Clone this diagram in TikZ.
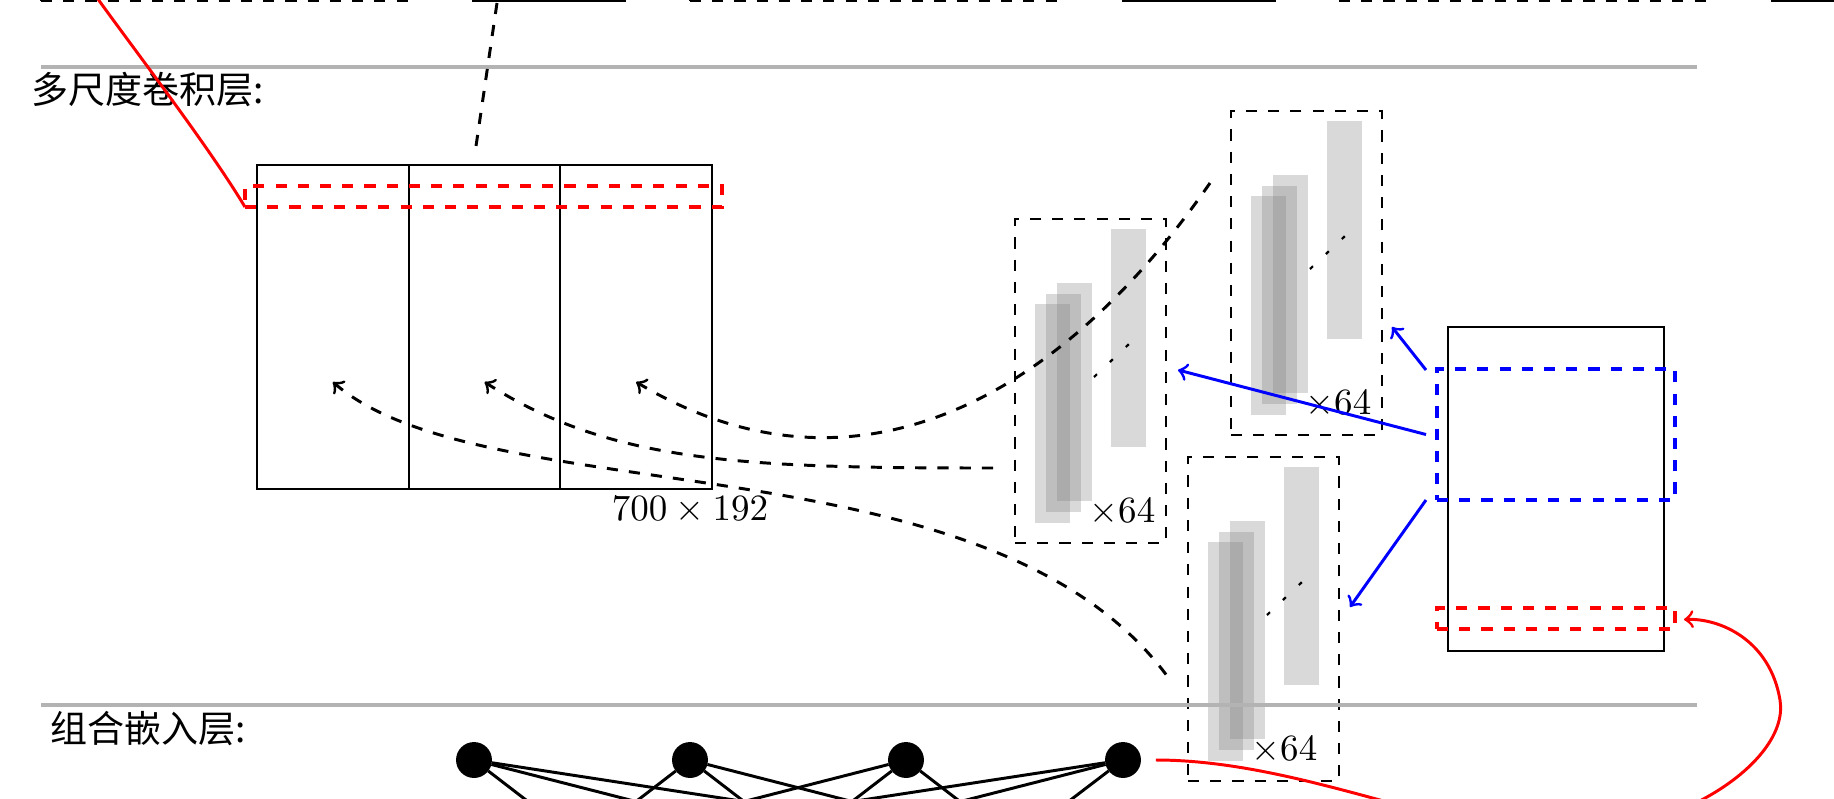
\documentclass[tikz,border=0pt]{standalone}
\usepackage{fontspec}
\newfontfamily\cjkfont{Noto Sans CJK SC}
\usetikzlibrary{calc}
\definecolor{sepgray}{RGB}{179,179,179}
\tikzset{
  sz/.style 2 args={minimum width={#1*0.27pt}, minimum height={#2*0.27pt}},
  thinbox/.style={draw=black, line width=0.45pt, inner sep=0pt, outer sep=0pt},
  dbox/.style={thinbox, dashed},
  grayrect/.style={fill=gray, fill opacity=0.3},
  dotsline/.style={line width=0.6pt, dash pattern=on 1.1pt off 4.8pt},
  sepline/.style={draw=sepgray, line width=1pt},
  reddash/.style={draw=red, line width=1.1pt, dashed, inner sep=0pt, outer sep=0pt},
  bluedash/.style={draw=blue, line width=1.1pt, dashed, inner sep=0pt, outer sep=0pt},
  bluearrow/.style={draw=blue, thick, ->},
  curvearrow/.style={draw=black, thick, dashed, ->},
  redline/.style={draw=red, thick},
  neuron/.style={circle, fill=black, inner sep=0pt, outer sep=0pt, minimum size=9.7pt},
  nedge/.style={draw=black, thick},
  topdbox/.style={draw=black, thick, dashed, inner sep=0pt, outer sep=0pt},
  topsbox/.style={draw=black, thick, inner sep=0pt, outer sep=0pt},
  cjklabel/.style={anchor=west, inner sep=0pt, font=\cjkfont},
  multlabel/.style={anchor=base east, inner sep=0pt},
}
\newcommand{\convstack}[4]{%
  \begin{scope}[shift={(#2,#3)}]
    \fill[grayrect] (20,85) rectangle (55,304);
    \fill[grayrect] (31,75) rectangle (66,293);
    \fill[grayrect] (42,64) rectangle (77,282);
    \fill[grayrect] (96,10) rectangle (131,228);
    \draw[dotsline] (79,158) -- (114,125);
    \node[multlabel] (#1m) at (#4,303) {$\times64$};
    \node[dbox, sz={151}{324}, anchor=north west] (#1) at (0,0) {};
  \end{scope}}
\begin{document}
\begin{tikzpicture}[x=0.27pt, y=-0.27pt]
\useasboundingbox (0,0) rectangle (1834,798);
\clip (0,0) rectangle (1834,798);

% top row of boxes (cut by the top edge)
\node[topdbox, sz={367}{61}, anchor=north west] (t1) at (41,-60) {};
\node[topsbox, sz={152}{61}, anchor=north west] (t2) at (473,-60) {};
\node[topdbox, sz={367}{61}, anchor=north west] (t3) at (690,-60) {};
\node[topsbox, sz={152}{61}, anchor=north west] (t4) at (1123,-60) {};
\node[topdbox, sz={371}{61}, anchor=north west] (t5) at (1339,-60) {};
\node[topsbox, sz={150}{61}, anchor=north west] (t6) at (1772,-60) {};

% separators and section labels
\draw[sepline] (41,67) -- (1697,67);
\draw[sepline] (41,705) -- (1697,705);
\node[cjklabel] (lab1) at (31,89) {多尺度卷积层:};
\node[cjklabel] (lab2) at (50,729) {组合嵌入层:};

% convolution stacks
\convstack{boxA}{1015}{219}{141}
\convstack{boxB}{1231}{111}{141}
\convstack{boxC}{1188}{457}{130}
\draw[sepline] (1100,705) -- (1697,705);

% big 3-column box
\node[thinbox, sz={151.7}{324}, anchor=north west] (col1) at (257,165) {};
\node[thinbox, sz={151.7}{324}, anchor=north west] (col2) at (408.7,165) {};
\node[thinbox, sz={151.7}{324}, anchor=north west] (col3) at (560.3,165) {};
\node[inner sep=0pt] (dim) at (690,510) {$700\times192$};
\node[reddash, sz={477}{21}, anchor=north west] (redL) at (245,186) {};

% right input box
\node[thinbox, sz={216}{324}, anchor=north west] (rbox) at (1448,327) {};
\node[bluedash, sz={238}{131}, anchor=north west] (blueR) at (1437,369) {};
\node[reddash, sz={238}{21}, anchor=north west] (redR) at (1437,608) {};

% embedding layer neurons
\node[neuron] (n1) at (474,760) {};
\node[neuron] (n2) at (690,760) {};
\node[neuron] (n3) at (906,760) {};
\node[neuron] (n4) at (1123,760) {};
\coordinate (l1) at (582,843);
\coordinate (l2) at (798,843);
\coordinate (l3) at (1014,843);
\foreach \a in {n1,n2,n3,n4}{
  \foreach \b in {l1,l2,l3}{
    \draw[nedge] (\a) -- (\b);
  }
}

% connectors
\draw[black, thick, dashed] ($(t2.south west)+(24,2)$) -- ($(col2.north)+(-10,-9)$);
\draw[redline] (redL.south west) .. controls (209,147) and (139,56) .. (95,-5);
\draw[curvearrow] ($(boxB.west)+(-21,-90)$) .. controls (1050,413) and (844,506) .. ($(col3.center)+(0,55)$);
\draw[curvearrow] ($(boxA.west)+(-22,87)$) .. controls (743,468) and (611,463) .. ($(col2.center)+(0,55)$);
\draw[curvearrow] ($(boxC.west)+(-22,55.5)$) .. controls (986,435) and (486,514) .. ($(col1.center)+(0,55)$);
\draw[bluearrow] ($(blueR.north west)+(-11,1)$) -- ($(boxB.east)+(10,54)$);
\draw[bluearrow] ($(blueR.west)+(-11,0)$) -- ($(boxA.east)+(12,-11)$);
\draw[bluearrow] ($(blueR.south west)+(-11,0)$) -- ($(boxC.east)+(11,-12)$);
\draw[redline, ->, shorten <=4pt] (n4) .. controls (1300,760) and (1450,835) .. (1560,835)
  .. controls (1680,835) and (1790,760) .. (1780,700)
  .. controls (1770,640) and (1720,618) .. ($(redR.east)+(9,1)$);
\end{tikzpicture}
\end{document}
